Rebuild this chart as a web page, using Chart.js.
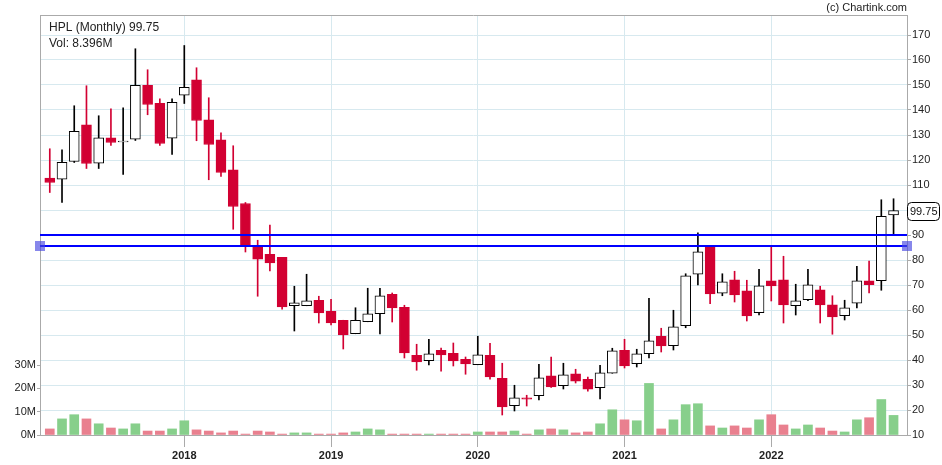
<!DOCTYPE html>
<html><head><meta charset="utf-8">
<script src="https://cdn.jsdelivr.net/npm/chart.js@4.4.1/dist/chart.umd.min.js"></script>
<style>html,body{margin:0;padding:0;background:#fff;overflow:hidden}canvas{display:block}</style>
</head><body>
<canvas id="c" width="942" height="465"></canvas>
<script>
// Monthly candles, Feb 2017 .. Nov 2022
const months = ['2017-02','2017-03','2017-04','2017-05','2017-06','2017-07','2017-08','2017-09','2017-10','2017-11','2017-12',
'2018-01','2018-02','2018-03','2018-04','2018-05','2018-06','2018-07','2018-08','2018-09','2018-10','2018-11','2018-12',
'2019-01','2019-02','2019-03','2019-04','2019-05','2019-06','2019-07','2019-08','2019-09','2019-10','2019-11','2019-12',
'2020-01','2020-02','2020-03','2020-04','2020-05','2020-06','2020-07','2020-08','2020-09','2020-10','2020-11','2020-12',
'2021-01','2021-02','2021-03','2021-04','2021-05','2021-06','2021-07','2021-08','2021-09','2021-10','2021-11','2021-12',
'2022-01','2022-02','2022-03','2022-04','2022-05','2022-06','2022-07','2022-08','2022-09','2022-10','2022-11'];
const open  = [112.8,112.3,119.4,134.1,118.7,128.9,127.2,128.3,149.9,142.7,128.7,
145.9,152.1,136.1,128.1,116.1,102.6,85.2,82.3,81.1,61.7,61.7,63.9,
59.5,55.9,50.5,55.3,58.5,66.3,61.1,41.9,39.7,43.9,42.7,40.3,
38.1,41.9,32.7,21.7,24.9,25.7,33.7,29.7,34.5,32.3,28.9,34.7,
43.9,38.5,42.5,49.5,45.7,53.7,74.3,85.5,66.7,72.1,67.7,58.9,
71.7,72.1,61.7,64.1,68.1,62.1,57.7,62.7,71.7,71.7,98.0];
const high  = [124.5,124.1,141.7,149.7,137.7,140.5,140.9,164.5,156.1,144.5,144.5,
165.8,156.9,144.9,130.9,125.7,103.0,87.9,94.0,81.1,69.5,74.3,65.5,
64.3,55.9,60.9,68.7,68.7,66.8,61.9,46.3,48.3,44.8,46.8,41.2,
49.5,46.7,38.7,29.9,25.9,38.3,41.2,38.7,36.3,33.2,37.9,44.7,
48.3,44.3,64.7,52.7,59.9,74.5,90.9,85.8,74.5,75.5,71.9,76.3,
85.2,81.5,70.3,76.3,69.5,65.7,63.9,77.5,79.6,104.1,104.5];
const low   = [107.0,103.0,119.0,116.6,116.6,125.8,114.2,127.8,138.1,125.8,122.2,
142.6,127.7,112.1,113.4,92.3,83.2,65.5,75.6,60.3,51.6,61.7,54.8,
54.0,44.4,50.5,55.3,50.4,55.2,40.8,35.9,38.0,35.5,37.6,34.3,
38.1,32.3,18.0,19.6,21.6,24.0,29.0,28.4,30.8,27.5,24.4,34.7,
36.8,37.2,40.8,43.2,44.0,52.9,70.0,62.5,65.7,63.2,55.6,58.0,
63.6,54.8,58.0,63.7,54.8,50.3,56.0,60.8,66.8,67.9,90.5];
const close = [111.0,119.1,131.5,118.6,128.9,127.0,127.6,149.9,142.2,126.6,143.1,
149.1,135.8,126.2,115.0,101.4,85.9,80.3,78.8,61.2,62.9,63.7,58.8,
54.8,50.0,55.9,58.5,65.7,60.8,42.8,39.2,42.5,42.0,39.6,38.4,
42.1,33.2,21.2,24.9,24.3,32.9,29.2,34.1,31.5,28.3,34.9,43.7,
37.6,42.5,47.7,45.6,53.3,73.7,83.3,66.4,71.3,66.0,57.6,69.7,
69.6,62.0,63.7,70.1,62.0,57.2,60.9,71.7,70.1,97.5,99.75];
const volume = [2.6,6.9,8.7,6.9,4.8,3.0,2.6,4.8,1.7,1.7,2.6,
6.1,2.2,1.7,0.9,1.7,0.4,1.7,1.3,0.4,0.9,0.9,0.4,
0.4,0.9,1.3,2.6,2.2,0.4,0.4,0.4,0.4,0.4,0.4,0.4,
1.3,1.3,1.3,1.7,0.4,2.2,2.6,2.2,0.9,1.3,4.8,10.8,
6.5,6.1,22.1,2.6,6.5,13.0,13.4,3.9,3.0,3.9,3.0,6.5,
8.7,4.3,2.6,4.3,3.0,1.7,1.3,6.5,7.4,15.2,8.396];
const yearTickIndex  = [11,23,35,47,59];
const yearTickLabels = ['2018','2019','2020','2021','2022'];
const priceTicks = [10,20,30,40,50,60,70,80,90,100,110,120,130,140,150,160,170];
const volumeTicks = [0,10,20,30];
const levelLines = [90,85.7];
const lastClose = 99.75;
const titleText = 'HPL (Monthly) 99.75';
const volText = 'Vol: 8.396M';
const creditText = '(c) Chartink.com';

const RED = '#d20032';
const VGREEN = '#87cf8b';
const VRED = '#e9808f';
const GRID = '#d7e9ef';
const AXIS = '#aaaaaa';
const FONT = "'Liberation Sans', Arial, sans-serif";
Chart.defaults.font.family = FONT;

const idx = months.map((_, i) => i);
const up = idx.map(i => close[i] >= open[i]);

const overlay = {
  id: 'overlay',
  afterDraw(chart) {
    const {ctx, chartArea: a, scales} = chart;
    const yP = scales.yP;
    ctx.save();
    // top border
    ctx.strokeStyle = AXIS; ctx.lineWidth = 1;
    ctx.beginPath(); ctx.moveTo(a.left, Math.round(a.top) + 0.5); ctx.lineTo(a.right, Math.round(a.top) + 0.5); ctx.stroke();
    // level lines
    ctx.strokeStyle = '#0000ff'; ctx.lineWidth = 2;
    levelLines.forEach(v => {
      const y = Math.round(yP.getPixelForValue(v));
      ctx.beginPath(); ctx.moveTo(a.left, y); ctx.lineTo(a.right, y); ctx.stroke();
    });
    // handles
    const ys = Math.round(yP.getPixelForValue(levelLines[1]));
    ctx.fillStyle = 'rgba(70,70,225,0.65)';
    ctx.fillRect(a.left - 5, ys - 5, 10, 10);
    ctx.fillRect(a.right - 5, ys - 5, 10, 10);
    // last price box
    const yl = Math.round(yP.getPixelForValue(lastClose));
    const bx = a.right + 0.5, bw = 32, bh = 18, by = yl - 9 + 0.5;
    ctx.beginPath();
    ctx.roundRect(bx, by, bw, bh, 4);
    ctx.fillStyle = '#fff'; ctx.fill();
    ctx.strokeStyle = '#000'; ctx.lineWidth = 1; ctx.stroke();
    ctx.fillStyle = '#111'; ctx.font = '11px ' + FONT;
    ctx.textBaseline = 'middle'; ctx.textAlign = 'left';
    ctx.fillText(lastClose.toFixed(2), bx + 2.5, yl + 0.5);
    // texts
    ctx.font = '12px ' + FONT; ctx.fillStyle = '#222'; ctx.textBaseline = 'alphabetic';
    ctx.fillText(titleText, a.left + 9, 30.5);
    ctx.fillText(volText, a.left + 9, 46.5);
    ctx.font = '11px ' + FONT; ctx.textAlign = 'right';
    ctx.fillText(creditText, a.right, 11);
    ctx.restore();
  }
};

new Chart(document.getElementById('c'), {
  type: 'bar',
  data: {
    datasets: [
      { label: 'Volume', yAxisID: 'yV', order: 3, grouped: false, barThickness: 9,
        data: idx.map(i => ({x: i, y: volume[i]})),
        backgroundColor: idx.map(i => up[i] ? VGREEN : VRED) },
      { label: 'Wick', yAxisID: 'yP', order: 2, grouped: false, barThickness: 1,
        data: idx.map(i => ({x: i, y: [low[i], high[i]]})),
        backgroundColor: idx.map(i => up[i] ? '#000' : RED) },
      { label: 'Body', yAxisID: 'yP', order: 1, grouped: false, barThickness: 10,
        data: idx.map(i => ({x: i, y: [open[i], close[i]]})),
        backgroundColor: idx.map(i => up[i] ? '#fff' : RED),
        borderColor: idx.map(i => up[i] ? '#000' : RED),
        borderWidth: 1, borderSkipped: false }
    ]
  },
  options: {
    responsive: false, animation: false, devicePixelRatio: 1,
    layout: { padding: { top: 15, left: 0, right: 0, bottom: 0 } },
    plugins: { legend: { display: false }, tooltip: { enabled: false } },
    scales: {
      x: {
        type: 'linear', position: 'bottom', min: -0.8, max: 70.1, offset: false,
        afterBuildTicks: s => { s.ticks = yearTickIndex.map(v => ({value: v})); },
        afterFit: s => { s.height = 30; },
        ticks: { autoSkip: false, maxRotation: 0, padding: 2, color: '#222',
          font: { size: 11, weight: 'bold' },
          callback: v => yearTickLabels[yearTickIndex.indexOf(v)] },
        grid: { color: GRID, tickColor: AXIS, tickLength: 12, offset: false },
        border: { color: AXIS }
      },
      yP: {
        position: 'right', min: 10, max: 178,
        afterBuildTicks: s => { s.ticks = priceTicks.map(v => ({value: v})); },
        afterFit: s => { s.width = 35; },
        ticks: { padding: 1, color: '#222', font: { size: 11 } },
        grid: { color: GRID, tickColor: AXIS, tickLength: 4 },
        border: { color: AXIS }
      },
      yV: {
        position: 'left', min: 0, max: 180,
        afterBuildTicks: s => { s.ticks = volumeTicks.map(v => ({value: v})); },
        afterFit: s => { s.width = 40; },
        ticks: { padding: 1, color: '#222', font: { size: 11 }, callback: v => v + 'M' },
        grid: { drawOnChartArea: false, tickColor: AXIS, tickLength: 3 },
        border: { color: AXIS }
      }
    }
  },
  plugins: [overlay]
});
</script>
</body></html>
